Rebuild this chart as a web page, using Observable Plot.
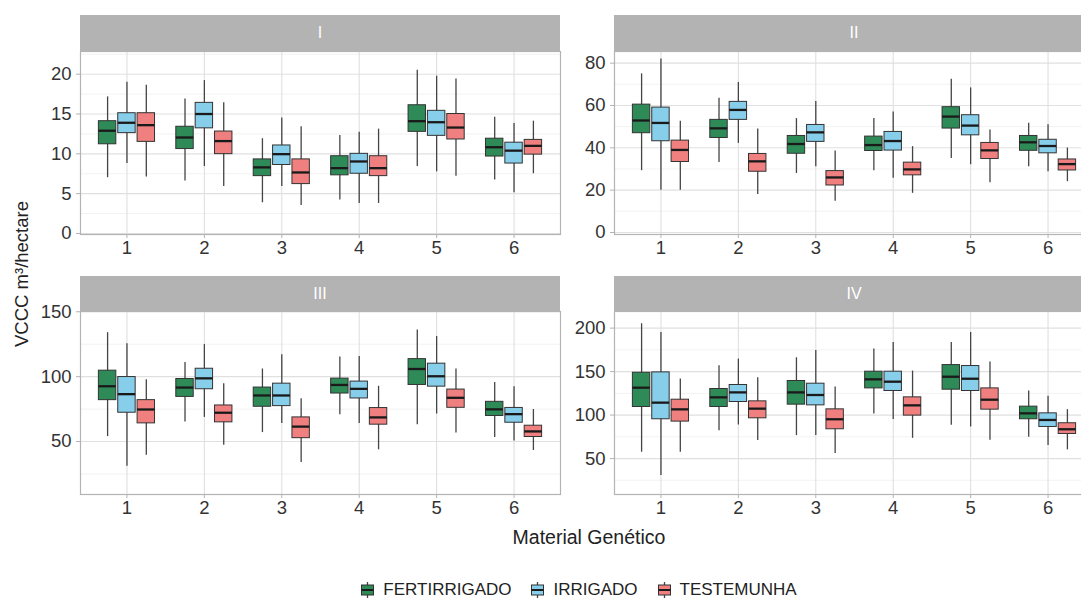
<!DOCTYPE html>
<html><head><meta charset="utf-8">
<script src="https://cdn.jsdelivr.net/npm/d3@7"></script>
<script src="https://cdn.jsdelivr.net/npm/@observablehq/plot@0.6"></script>
<style>
html,body{margin:0;padding:0;background:#fff;overflow:hidden}
#chart{position:relative;width:1081px;height:599px;overflow:hidden;font-family:"Liberation Sans",Arial,sans-serif;color:#222}
.panel{position:absolute;z-index:1}
.panel svg{max-width:none!important;overflow:visible}
.panel g[aria-label^="y-axis"] line,.panel g[aria-label^="y-axis"] path,.panel g[aria-label^="x-axis"] line,.panel g[aria-label^="x-axis"] path{stroke:#b3b3b3}
.strip{position:absolute;background:#b3b3b3;color:#fff;text-align:center;font-size:16px;z-index:2}
.ytitle{position:absolute;font-size:18.5px;white-space:nowrap;transform:translate(-50%,-50%) rotate(-90deg)}
.xtitle{position:absolute;font-size:19.5px;white-space:nowrap;transform:translate(-50%,-50%)}
#legend{position:absolute;top:580px;left:0;width:1158px;display:flex;justify-content:center;align-items:center;font-size:17px}
#legend .item{display:flex;align-items:center;margin:0 10px}
#legend svg{margin-right:9px}
</style></head>
<body><div id="chart"></div>
<script>
const groups = [1, 2, 3, 4, 5, 6];
const treatments = ["FERTIRRIGADO", "IRRIGADO", "TESTEMUNHA"];
const colors = ["#2e8b57", "#87ceeb", "#f08080"];
const facetNames = ["I", "II", "III", "IV"];

// each entry: [whisker low, Q1, median, Q3, whisker high] for groups 1..6
const I_FERT = [[7.0,11.2,12.9,14.1,17.15],[6.6,10.6,12.05,13.4,16.9],[3.85,7.2,8.3,9.3,11.9],[4.2,7.3,8.2,9.7,12.3],[8.4,12.76,14.1,16.1,20.5],[6.7,9.66,10.83,11.9,14.6]];
const I_IRR  = [[8.8,12.6,13.9,15.1,19.0],[8.4,13.2,15.0,16.4,19.2],[5.9,8.6,9.96,11.05,14.5],[3.77,7.5,9.04,10.0,12.7],[7.74,12.26,13.97,15.4,19.75],[5.1,8.78,10.4,11.4,13.8]];
const I_TEST = [[7.1,11.5,13.6,15.1,18.6],[5.9,9.96,11.6,12.8,16.4],[3.5,6.2,7.66,9.3,13.4],[3.77,7.2,8.2,9.7,13.1],[7.2,11.8,13.3,15.0,19.4],[7.5,9.9,11.0,11.75,14.1]];

const II_FERT = [[29.2,46.9,52.9,60.4,74.95],[33.1,44.65,49.2,53.2,63.4],[27.9,37.2,41.8,45.6,53.8],[29.2,38.5,41.3,45.3,53.8],[34.9,49.1,54.75,59.2,72.4],[31.1,38.6,42.6,45.6,51.6]];
const II_IRR  = [[20.0,43.1,51.75,59.0,81.9],[42.1,53.2,57.9,61.7,70.85],[31.1,42.8,47.3,50.8,61.85],[25.6,38.7,43.2,47.5,56.96],[32.0,45.9,50.5,55.4,68.3],[28.7,37.4,40.85,43.8,50.9]];
const II_TEST = [[20.0,33.3,39.0,43.4,52.5],[18.0,28.7,33.6,37.1,48.9],[14.7,22.2,26.0,29.0,38.5],[18.5,27.0,29.8,33.0,40.55],[23.5,34.7,38.8,42.3,48.4],[24.0,29.3,32.3,34.5,39.9]];

const III_FERT = [[53.8,81.9,92.6,104.6,133.9],[65.05,84.4,91.6,98.2,111.0],[56.9,76.8,85.5,91.6,105.9],[70.7,87.0,93.6,98.5,115.05],[63.0,93.6,105.9,113.5,136.0],[53.1,69.7,74.8,80.6,95.4]];
const III_IRR  = [[30.9,72.2,86.5,99.7,125.3],[68.6,90.3,98.7,106.1,124.7],[64.0,77.3,85.5,94.6,116.8],[64.0,83.2,90.6,96.2,115.6],[71.2,92.3,100.3,110.0,130.9],[50.5,64.5,71.1,75.9,92.3]];
const III_TEST = [[39.5,64.0,74.7,81.9,97.7],[47.2,64.8,72.2,77.8,94.6],[33.9,52.6,61.5,68.6,82.9],[43.6,63.0,68.6,75.8,92.6],[56.6,76.0,83.7,90.05,105.9],[43.1,53.5,57.8,62.2,74.7]];

const IV_FERT = [[57.3,109.3,131.5,148.7,205.0],[82.1,109.3,120.4,130.0,156.8],[76.4,112.0,126.1,139.2,165.9],[101.3,130.7,141.1,149.9,175.9],[88.3,129.2,144.1,157.5,183.5],[74.5,95.2,102.0,109.7,127.7]];
const IV_IRR  = [[30.5,95.2,114.3,149.1,195.0],[88.6,115.05,126.1,134.6,164.4],[76.4,111.2,123.1,136.1,174.4],[94.8,127.7,138.4,149.9,183.5],[86.4,127.7,141.8,156.4,195.0],[64.9,86.35,94.4,102.0,121.6]];
const IV_TEST = [[57.3,92.5,106.6,117.7,141.5],[70.7,96.3,107.4,115.8,143.0],[55.7,83.7,95.2,106.6,132.3],[73.3,99.4,111.2,120.4,150.6],[71.0,106.25,117.7,130.7,161.0],[60.0,78.3,83.7,90.6,106.25]];

const I_ticks = [0, 5, 10, 15, 20];
const II_ticks = [0, 20, 40, 60, 80];
const III_ticks = [50, 100, 150];
const IV_ticks = [50, 100, 150, 200];

const xLabel = "Material Genético";
const yLabel = "VCCC m³/hectare";

// layout
const dodge = [-0.25, 0, 0.25];
const half = 0.1125;
const panelW = 480, panelH = 183, mTop = 14, mBottom = 40;
const panels = [
  {name: facetNames[0], left: 80,  top: 51,  stripTop: 15,  stripH: 36, domain: [-0.13, 22.85], ticks: I_ticks, sets: [I_FERT, I_IRR, I_TEST]},
  {name: facetNames[1], left: 614, top: 51,  stripTop: 15,  stripH: 36, domain: [-0.95, 85.5],  ticks: II_ticks, sets: [II_FERT, II_IRR, II_TEST]},
  {name: facetNames[2], left: 80,  top: 311, stripTop: 276, stripH: 35, domain: [9.2, 150.2],  ticks: III_ticks, sets: [III_FERT, III_IRR, III_TEST]},
  {name: facetNames[3], left: 614, top: 311, stripTop: 276, stripH: 35, domain: [8.7, 219.1],  ticks: IV_ticks, sets: [IV_FERT, IV_IRR, IV_TEST]}
];

const chart = document.getElementById("chart");

function toRows(sets) {
  const out = [];
  sets.forEach((arr, ti) => arr.forEach((s, gi) => out.push({
    t: treatments[ti], g: groups[gi], x: groups[gi] + dodge[ti],
    lo: s[0], q1: s[1], med: s[2], q3: s[3], hi: s[4]
  })));
  return out;
}

for (const p of panels) {
  const data = toRows(p.sets);
  const step = p.ticks[1] - p.ticks[0];
  const minor = d3.range(p.ticks[0] - step / 2, p.domain[1], step).filter(v => v > p.domain[0] && v < p.domain[1]);
  const mLeft = 70;
  const plot = Plot.plot({
    width: mLeft + panelW + 6,
    height: mTop + panelH + mBottom,
    marginLeft: mLeft, marginRight: 6, marginTop: mTop, marginBottom: mBottom,
    style: {fontSize: "18.5px", fontFamily: "'Liberation Sans', Arial, sans-serif", color: "#333", background: "transparent", overflow: "visible"},
    x: {domain: [0.4, 6.6], ticks: groups, tickFormat: d => String(d), tickSize: 4, tickPadding: 2, label: null},
    y: {domain: p.domain, ticks: p.ticks, tickFormat: d => String(d), tickSize: 4, tickPadding: 5, label: null},
    color: {domain: treatments, range: colors},
    marks: [
      Plot.ruleY(minor, {stroke: "#efefef", strokeWidth: 0.8}),
      Plot.ruleY(p.ticks, {stroke: "#e0e0e0", strokeWidth: 1.1}),
      Plot.ruleX(groups, {stroke: "#e0e0e0", strokeWidth: 1.1}),
      Plot.ruleX(data, {x: "x", y1: "lo", y2: "hi", stroke: "#444", strokeWidth: 1.3}),
      Plot.rect(data, {x1: d => d.x - half, x2: d => d.x + half, y1: "q1", y2: "q3", fill: "t", stroke: "#333", strokeWidth: 1}),
      Plot.ruleY(data, {x1: d => d.x - half, x2: d => d.x + half, y: "med", stroke: "#1a1a1a", strokeWidth: 2.3}),
      Plot.frame({stroke: "#b3b3b3", strokeWidth: 1.2})
    ]
  });
  const wrap = document.createElement("div");
  wrap.className = "panel";
  wrap.style.left = (p.left - mLeft) + "px";
  wrap.style.top = (p.top - mTop) + "px";
  wrap.appendChild(plot);
  chart.appendChild(wrap);

  const strip = document.createElement("div");
  strip.className = "strip";
  strip.style.left = p.left + "px";
  strip.style.top = p.stripTop + "px";
  strip.style.width = panelW + "px";
  strip.style.height = p.stripH + "px";
  strip.style.lineHeight = p.stripH + "px";
  strip.textContent = p.name;
  chart.appendChild(strip);
}

const yt = document.createElement("div");
yt.className = "ytitle"; yt.style.left = "22px"; yt.style.top = "274px"; yt.textContent = yLabel;
chart.appendChild(yt);
const xt = document.createElement("div");
xt.className = "xtitle"; xt.style.left = "589px"; xt.style.top = "537px"; xt.textContent = xLabel;
chart.appendChild(xt);

// legend
const legend = document.createElement("div");
legend.id = "legend";
treatments.forEach((t, i) => {
  const item = document.createElement("div");
  item.className = "item";
  item.innerHTML = `<svg width="13" height="16" viewBox="0 0 13 16"><line x1="6.5" y1="0" x2="6.5" y2="16" stroke="#444" stroke-width="1.3"/><rect x="0.5" y="3" width="12" height="10" fill="${colors[i]}" stroke="#333" stroke-width="1"/><line x1="0.5" y1="8" x2="12.5" y2="8" stroke="#1a1a1a" stroke-width="2"/></svg><span>${t}</span>`;
  legend.appendChild(item);
});
chart.appendChild(legend);
</script></body></html>
